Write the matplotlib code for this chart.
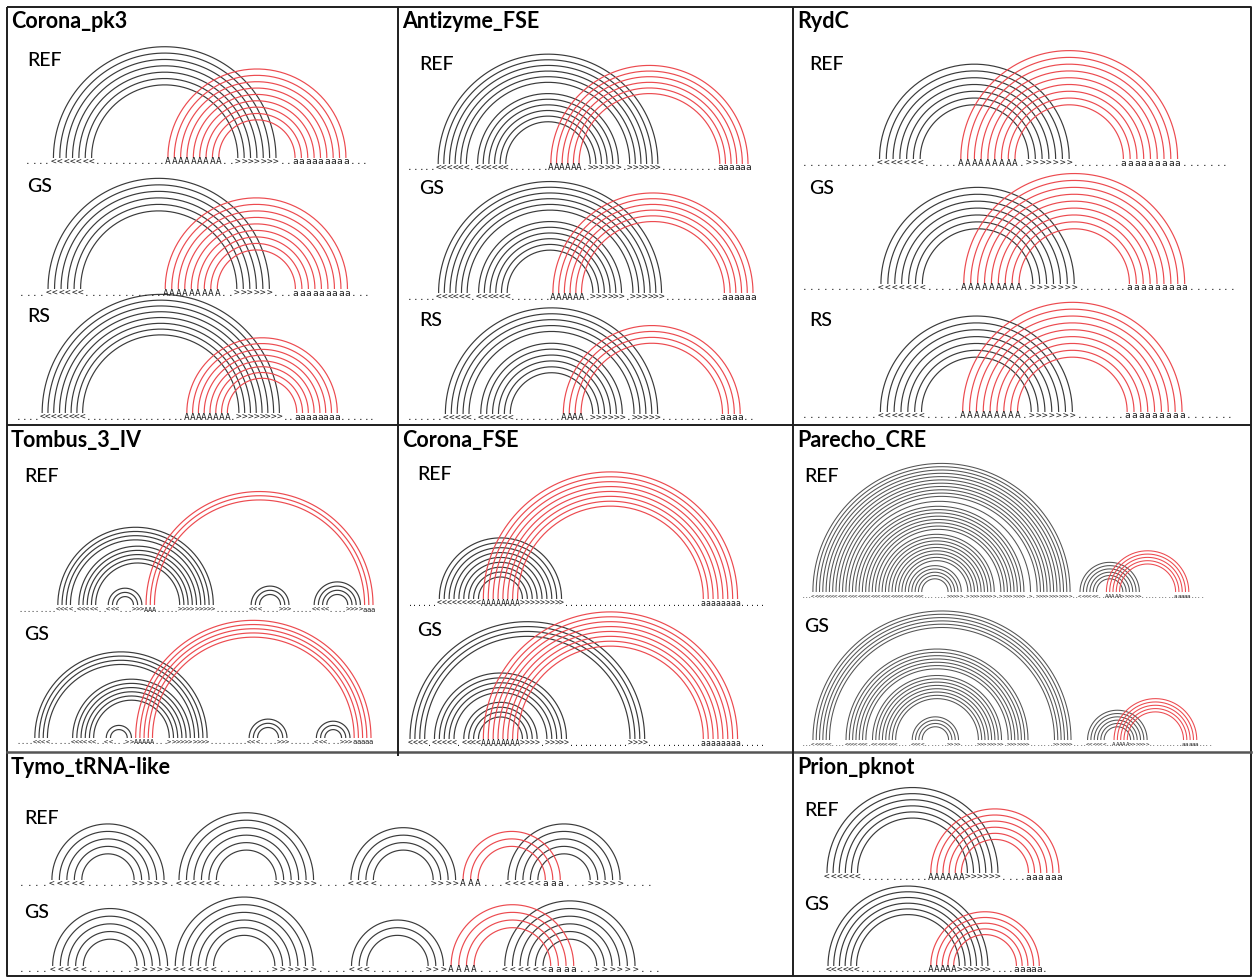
import numpy as np
import matplotlib
matplotlib.use("Agg")
import matplotlib.pyplot as plt

# Dot-bracket structures, written as run-length tokens "<count><char>".
# '<' / '>' are the nested stems, 'A' / 'a' the pseudoknot stem.
CORONA_PK3_REF = "4. 7< 11. 9A 2. 7> 2. 9a 3."
CORONA_PK3_GS = "4. 6< 12. 9A 2. 6> 3. 9a 3."
CORONA_PK3_RS = "4. 8< 17. 8A 1. 8> 2. 8a 6."

ANTIZYME_REF = "5. 6< 1. 6< 7. 6A 1. 6> 1. 6> 10. 6a"
ANTIZYME_GS = "5. 6< 1. 6< 7. 6A 1. 6> 1. 6> 10. 6a"
ANTIZYME_RS = "6. 5< 1. 6< 8. 4A 1. 6> 1. 5> 10. 4a 2."

RYDC_REF = "11. 7< 5. 9A 1. 7> 7. 9a 7."
RYDC_GS = "11. 7< 5. 9A 1. 7> 7. 9a 7."
RYDC_RS = "11. 7< 5. 9A 1. 7> 7. 9a 7."

TOMBUS_REF = "9. 4< 1. 5< 2. 3< 3. 3> 3A 5. 5> 4> 8. 3< 4. 3> 5. 4< 4. 4> 3a"
TOMBUS_GS = "4. 4< 5. 6< 2. 2< 3. 2> 5A 3. 6> 4> 9. 3< 4. 3> 6. 3< 3. 3> 5a"

CORONA_FSE_REF = "6. 9< 8A 9> 28. 8a 5."
CORONA_FSE_GS = "4< 1. 5< 1. 4< 8A 4> 1. 5> 12. 4> 11. 8a 5."

PARECHO_REF = "3. 34< 7. 5> 1. 9> 1. 8> 1. 1> 1. 11> 2. 6< 2. 5A 6> 10. 5a 4."
PARECHO_GS = "3. 6< 4. 7< 1. 8< 4. 4< 7. 4> 5. 8> 1. 7> 7. 6> 4. 6< 2. 5A 6> 10. 5a 4."

TYMO_REF = "4. 5< 6. 5> 1. 6< 7. 6> 4. 4< 7. 4> 3A 3. 5< 3a 3. 5> 4."
TYMO_GS = "4. 5< 6. 5> 6< 7. 6> 4. 3< 7. 3> 4A 3. 6< 4a 2. 6> 3."

PRION_REF = "6< 11. 6A 6> 4. 6a"
PRION_GS = "6< 12. 5A 6> 4. 5a 1."

PANEL_TITLES = ["Corona_pk3", "Antizyme_FSE", "RydC", "Tombus_3_IV",
                "Corona_FSE", "Parecho_CRE", "Tymo_tRNA-like", "Prion_pknot"]
ROW_LABELS = ["REF", "GS", "RS"]

W, H = 1253, 977
BLACK = "#3a3a3a"
RED = "#ec4a4f"

# title anchor (x, y) per panel
title_pos = [(11, 22), (402, 22), (797, 22), (11, 441), (402, 441),
             (797, 441), (11, 768), (797, 768)]

# each drawn structure: panel, label, label anchor, structure, x of first and
# last character, y of the bracket line
layout = [
    (0, 0, (27, 60), CORONA_PK3_REF, 28, 365, 162),
    (0, 1, (27, 186), CORONA_PK3_GS, 22, 367, 293),
    (0, 2, (27, 317), CORONA_PK3_RS, 19, 372, 417),
    (1, 0, (419, 64), ANTIZYME_REF, 410, 748, 168),
    (1, 1, (419, 189), ANTIZYME_GS, 410, 753, 297),
    (1, 2, (419, 320), ANTIZYME_RS, 410, 752, 418),
    (2, 0, (809, 65), RYDC_REF, 805, 1225, 163),
    (2, 1, (809, 189), RYDC_GS, 805, 1233, 288),
    (2, 2, (809, 320), RYDC_RS, 805, 1230, 416),
    (3, 0, (24, 476), TOMBUS_REF, 20, 373, 609),
    (3, 1, (24, 635), TOMBUS_GS, 18, 371, 742),
    (4, 0, (417, 475), CORONA_FSE_REF, 410, 762, 603),
    (4, 1, (417, 630), CORONA_FSE_GS, 410, 762, 743),
    (5, 0, (804, 477), PARECHO_REF, 803, 1202, 596),
    (5, 1, (804, 627), PARECHO_GS, 803, 1210, 744),
    (6, 0, (24, 819), TYMO_REF, 22, 650, 884),
    (6, 1, (24, 912), TYMO_GS, 22, 658, 970),
    (7, 0, (804, 811), PRION_REF, 827, 1059, 877),
    (7, 1, (804, 905), PRION_GS, 828, 1045, 970),
]


def decode(runs):
    return "".join(tok[-1] * int(tok[:-1]) for tok in runs.split())


def base_pairs(seq):
    stacks = {"<": [], "A": []}
    openers = {">": "<", "a": "A"}
    out = []
    for j, ch in enumerate(seq):
        if ch in stacks:
            stacks[ch].append(j)
        elif ch in openers:
            i = stacks[openers[ch]].pop()
            out.append((i, j, ch == "a"))
    return out


fig = plt.figure(figsize=(W / 100, H / 100), dpi=100)
ax = fig.add_axes([0, 0, 1, 1])
ax.set_xlim(0, W)
ax.set_ylim(H, 0)
ax.axis("off")

# panel grid
grid_kw = dict(color="#1e1e1e", lw=1.4, solid_capstyle="butt")
ax.plot([7, 1251, 1251, 7, 7], [7, 7, 976, 976, 7], **grid_kw)
ax.plot([7, 1251], [425, 425], **grid_kw)
ax.plot([7, 1251], [752, 752], color="#555555", lw=1.8)
ax.plot([398, 398], [7, 756], **grid_kw)
ax.plot([793, 793], [7, 976], **grid_kw)

TITLE_FONT = ["Lato", "DejaVu Sans"]
for (tx, ty), name in zip(title_pos, PANEL_TITLES):
    ax.text(tx, ty, name, fontsize=15.5, fontweight="bold", family=TITLE_FONT,
            ha="left", va="center", color="black")

theta = np.linspace(np.pi, 2 * np.pi, 160)
for panel, lab, (lx, ly), runs, x0, x1, yrow in layout:
    seq = decode(runs)
    n = len(seq)
    d = (x1 - x0) / (n - 1)
    xs = x0 + d * np.arange(n)
    ybase = yrow - 4.0
    lw = min(0.85, 0.2 * d + 0.1)
    black = BLACK if d > 4 else "#555555"
    # pair arcs: true semicircles between the two paired positions
    for i, j, knot in sorted(base_pairs(seq), key=lambda p: p[2]):
        cx = (xs[i] + xs[j]) / 2
        r = (xs[j] - xs[i]) / 2
        ax.plot(cx + r * np.cos(theta), ybase + r * np.sin(theta),
                color=RED if knot else black, lw=lw, solid_capstyle="butt")
    fs = min(6.8, max(4.2, d * 1.2))
    for x, ch in zip(xs, seq):
        ax.text(x, yrow + 2.5, ch, fontsize=fs, family="DejaVu Sans Mono",
                ha="center", va="baseline", color="#1e1e1e")
    ax.text(lx, ly, ROW_LABELS[lab], fontsize=14, fontweight="medium",
            family=TITLE_FONT, ha="left", va="center", color="black")

fig.savefig("out.png", dpi=100)
